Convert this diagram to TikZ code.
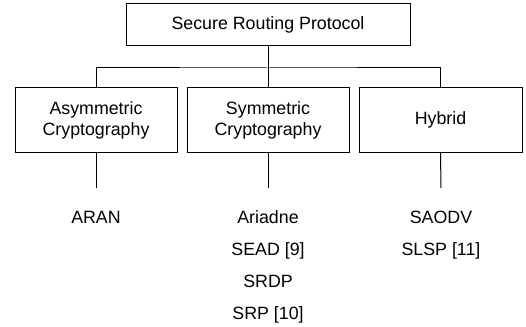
\documentclass[tikz,border=0pt]{standalone}
\usepackage{fontspec}
\setmainfont{Liberation Sans}
\begin{document}
\begin{tikzpicture}[x=1pt,y=-1pt,
  box/.style={draw,line width=1pt,align=center,inner sep=0pt,font=\fontsize{17.8}{21}\selectfont},
  conn/.style={draw,line width=1pt},
  item/.style={anchor=base,inner sep=0pt,font=\fontsize{17.8}{21}\selectfont}]
\useasboundingbox (0,0) rectangle (526,326);
\node[box,minimum width=284pt,minimum height=42pt] (top) at (268,25) {Secure Routing Protocol};
\node[box,minimum width=162pt,minimum height=64pt] (b1) at (96,120) {Asymmetric\\Cryptography};
\node[box,minimum width=162pt,minimum height=64pt] (b2) at (268,120) {Symmetric\\Cryptography};
\node[box,minimum width=163pt,minimum height=64pt] (b3) at (440.5,120) {Hybrid};
\coordinate (bus) at (268,68);
\draw[conn] (top.south) -- (bus);
\draw[conn] (b1.north) |- (bus) -| (b3.north);
\draw[conn] (b2.north) -- (bus);
\coordinate (e1) at (96,188);
\coordinate (e2) at (268,188);
\coordinate (e3) at (441,188);
\draw[conn] (b1.south) -- (e1);
\draw[conn] (b2.south) -- (e2);
\draw[conn] (b3.south) -- (e3);
\node[item] (aran) at (96,223) {ARAN};
\node[item] (ariadne) at (268,223) {Ariadne};
\node[item] (sead) at (268,255) {SEAD [9]};
\node[item] (srdp) at (268,287) {SRDP};
\node[item] (srp) at (268,319) {SRP [10]};
\node[item] (saodv) at (441,223) {SAODV};
\node[item] (slsp) at (441,255) {SLSP [11]};
\end{tikzpicture}
\end{document}
